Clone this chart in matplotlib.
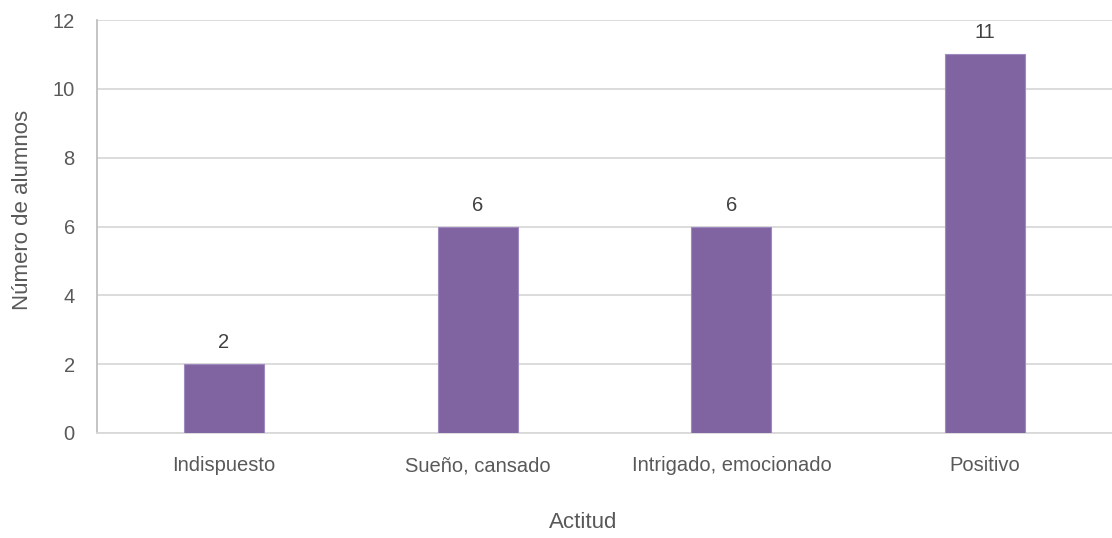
import matplotlib
matplotlib.use("Agg")
import matplotlib.pyplot as plt
from matplotlib.transforms import blended_transform_factory

categories = ["Indispuesto", "Sueño, cansado", "Intrigado, emocionado", "Positivo"]
values = [2, 6, 6, 11]
y_ticks = [0, 2, 4, 6, 8, 10, 12]

plt.rcParams["font.family"] = ["Liberation Sans", "DejaVu Sans"]

text_color = "#595959"
bar_color = "#8064A2"

fig = plt.figure(figsize=(11.12, 5.38), dpi=100)
ax = fig.add_axes([97 / 1112, 1 - 433 / 538, (1112 - 97) / 1112, (433 - 20) / 538])

x = list(range(len(categories)))
ax.bar(x, values, width=0.315, color=bar_color, edgecolor="#9F8AC0",
       linewidth=0.8, zorder=3)

for xi, v in zip(x, values):
    ax.annotate(str(v), (xi, v), xytext=(0, 11.5), textcoords="offset points",
                ha="center", va="baseline", fontsize=14.5, color="#404040")

ax.set_xlim(-0.5, len(categories) - 0.5)
ax.set_ylim(0, 12)
ax.set_yticks(y_ticks)
ax.set_xticks(x)
ax.set_xticklabels([])
ax.tick_params(axis="both", length=0, labelsize=14.5, colors=text_color)
ax.tick_params(axis="y", pad=16)

# category names share one baseline below the axis
trans = blended_transform_factory(ax.transData, fig.transFigure)
for xi, name in zip(x, categories):
    ax.text(xi, 1 - 471 / 538, name, transform=trans, ha="center", va="baseline",
            fontsize=14.5, color=text_color)

ax.grid(axis="y", color="#D9D9D9", linewidth=1.3, zorder=0)
for side in ["top", "right"]:
    ax.spines[side].set_visible(False)
ax.spines["left"].set_color("#BFBFBF")
ax.spines["left"].set_linewidth(1.3)
ax.spines["bottom"].set_color("#D9D9D9")
ax.spines["bottom"].set_linewidth(1.3)

fig.text(583 / 1112, 1 - 522 / 538, "Actitud", ha="center", va="center",
         fontsize=16, color=text_color)
fig.text(23 / 1112, 1 - 210 / 538, "Número de alumnos", ha="center", va="center",
         rotation=90, fontsize=16, color=text_color)

fig.savefig("out.png", dpi=100, facecolor="white")
